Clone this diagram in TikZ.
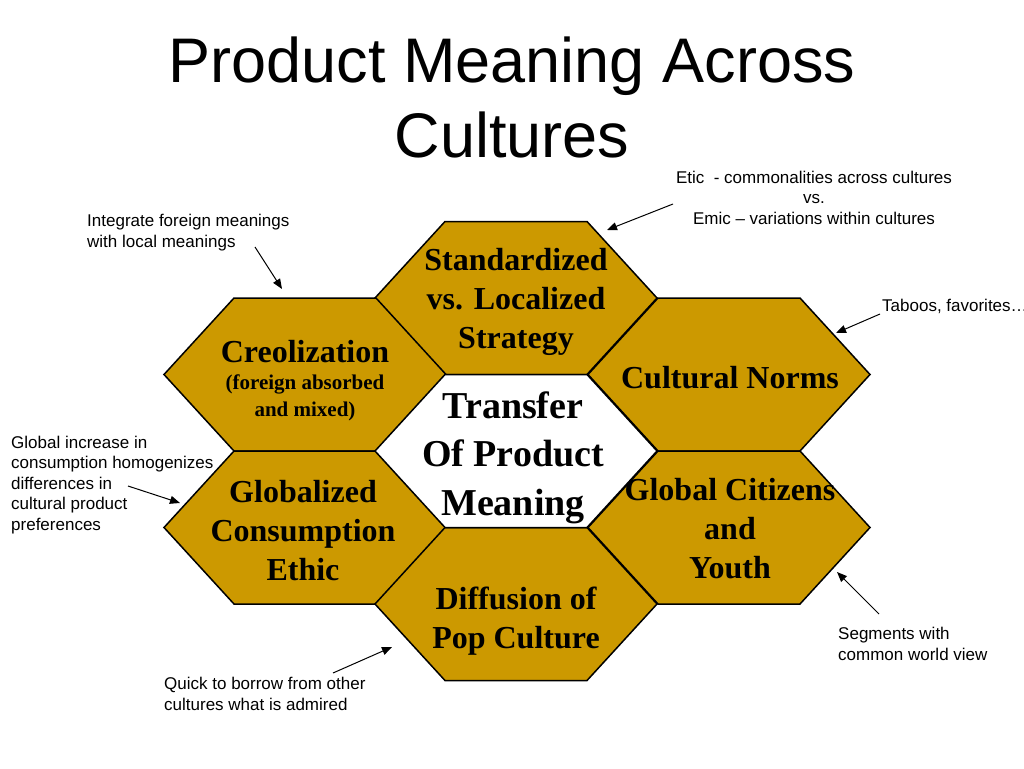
\documentclass[tikz,border=0pt]{standalone}
\usepackage{fontspec}
\setmainfont{Liberation Serif}
\setsansfont{Liberation Sans}
\usetikzlibrary{arrows.meta}

\definecolor{hexgold}{RGB}{204,153,0}
\newcommand{\smallhex}{\fontsize{21}{26}\selectfont}

\begin{document}
\begin{tikzpicture}[x=1pt, y=-1pt,
    hexcell/.style={draw=black, line width=1.5pt, line join=miter},
    hexlabel/.style={align=center, anchor=base, inner sep=0pt, font=\bfseries\fontsize{32}{39}\selectfont},
    note/.style={align=left, anchor=base west, inner sep=0pt, font=\sffamily\fontsize{17}{20.5}\selectfont},
    pointer/.style={-{Triangle[length=10pt, width=8pt]}, line width=1pt}]
    % Page
    \useasboundingbox (0,0) rectangle (1024,768);
    % Hexagons
    \foreach \cx/\cy/\name/\col in {516/298/std/hexgold, 305/374.5/creo/hexgold, 729/374.5/norms/hexgold,
        305/527.5/glob/hexgold, 729/527.5/citz/hexgold, 516/604/diff/hexgold, 516/451/core/white}
    {
        \filldraw[hexcell, fill=\col] (\cx-141,\cy) -- (\cx-71,\cy-76.5) -- (\cx+71,\cy-76.5)
            -- (\cx+141,\cy) -- (\cx+71,\cy+76.5) -- (\cx-71,\cy+76.5) -- cycle;
        \coordinate (\name) at (\cx,\cy);
    }
    % Title (anchored at the baseline of its last line)
    \node[align=center, anchor=base, inner sep=0pt, font=\sffamily\fontsize{63}{75}\selectfont] (title) at (512,157) {Product Meaning Across\\Cultures};
    % Hexagon texts
    \node[hexlabel] (std-text) at (516,348) {Standardized\\vs. Localized\\Strategy};
    \node[hexlabel] (creo-text) at (305,416) {Creolization\\[-12pt]\smallhex(foreign absorbed\\[-12pt]\smallhex and mixed)};
    \node[hexlabel] (norms-text) at (730,388) {Cultural Norms};
    \node[hexlabel, font=\bfseries\fontsize{38}{48.5}\selectfont] (core-text) at (513,515) {Transfer\\Of Product\\Meaning};
    \node[hexlabel] (glob-text) at (303,580) {Globalized\\Consumption\\Ethic};
    \node[hexlabel] (citz-text) at (730,578) {Global Citizens\\and\\Youth};
    \node[hexlabel] (diff-text) at (516,648) {Diffusion of\\Pop Culture};
    % Side notes
    \node[note] (integrate) at (87,247) {Integrate foreign meanings\\with local meanings};
    \node[note, align=center, anchor=base] (etic) at (814,224) {Etic\ \ - commonalities across cultures\\vs.\\Emic -- variations within cultures};
    \node[note] (taboos) at (882,311) {Taboos, favorites\ldots};
    \node[note] (increase) at (11,530) {Global increase in\\consumption homogenizes\\differences in\\cultural product\\preferences};
    \node[note] (segments) at (838,660) {Segments with\\common world view};
    \node[note] (borrow) at (164,710) {Quick to borrow from other\\cultures what is admired};
    % Pointer ends
    \coordinate (integrate-tail) at (255,247);
    \coordinate (integrate-tip) at (282,289);
    \coordinate (etic-tail) at (673,204);
    \coordinate (etic-tip) at (607,230);
    \coordinate (taboos-tail) at (880,314);
    \coordinate (taboos-tip) at (836,333);
    \coordinate (increase-tail) at (128,486);
    \coordinate (increase-tip) at (180,503);
    \coordinate (segments-tail) at (879,614);
    \coordinate (segments-tip) at (837,572);
    \coordinate (borrow-tail) at (333,673);
    \coordinate (borrow-tip) at (392,647);
    % Pointers
    \foreach \p in {integrate, etic, taboos, increase, segments, borrow}
    {
        \draw[pointer] (\p-tail) -- (\p-tip);
    }
\end{tikzpicture}
\end{document}
